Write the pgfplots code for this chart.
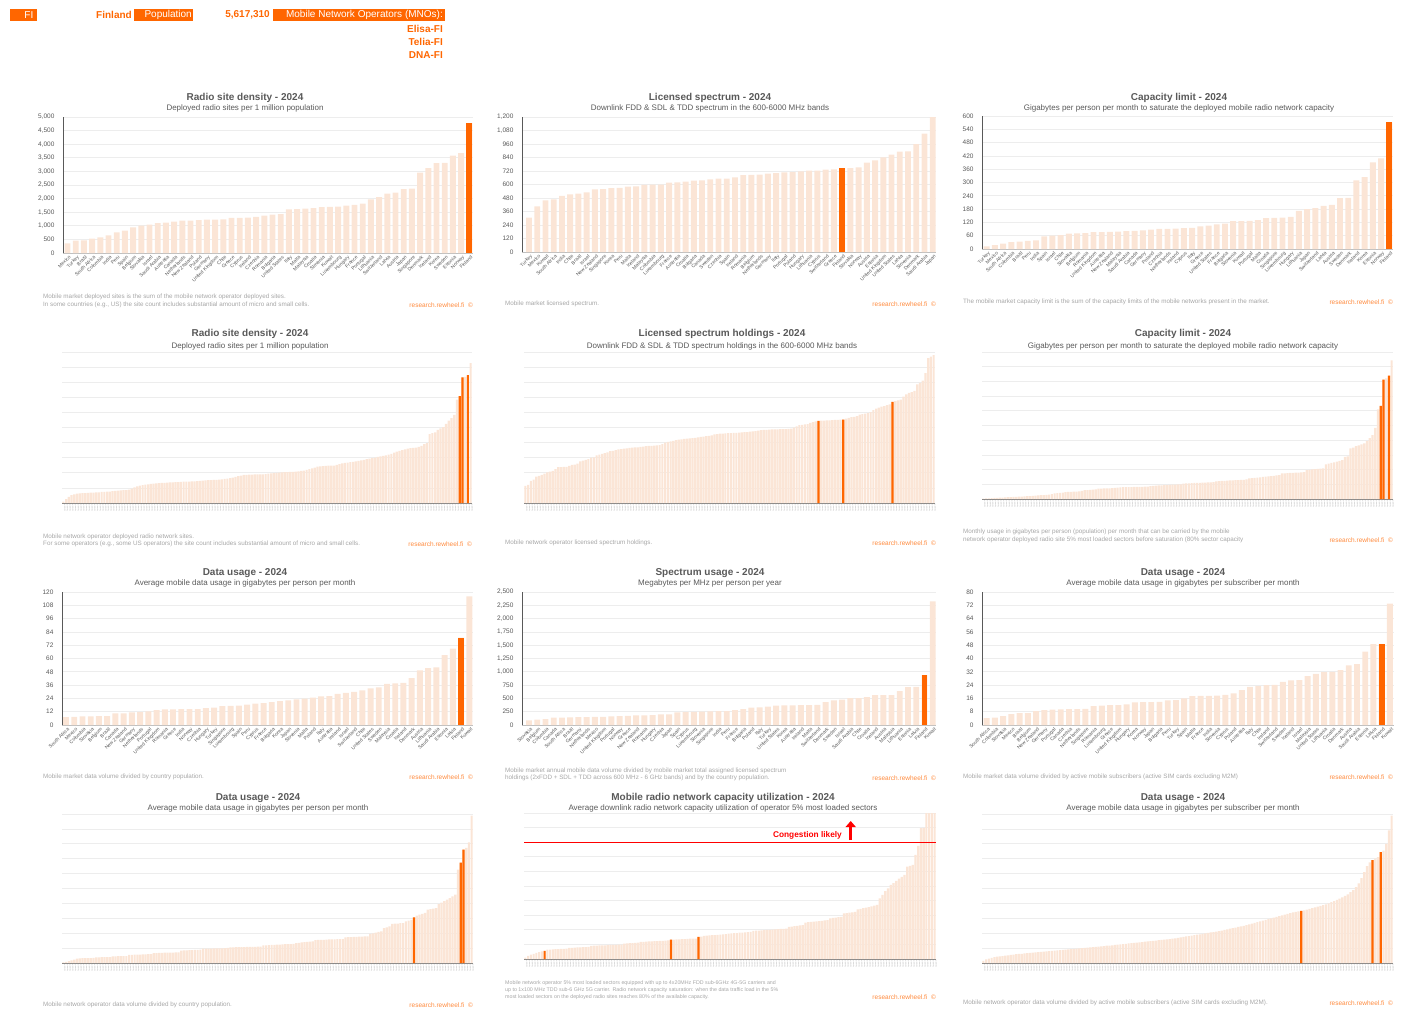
\documentclass[border=0pt]{standalone}
\usepackage{fontspec}
\setmainfont{Liberation Sans}
\usepackage{pgfplots}
\usepackage{pgfplotstable}
\pgfplotsset{compat=1.18}
\usetikzlibrary{arrows.meta}
\definecolor{barc}{HTML}{FBE5D6}
\definecolor{hic}{HTML}{FF6600}
\definecolor{txtc}{HTML}{595959}
\definecolor{notec}{HTML}{A6A6A6}
\definecolor{gridc}{HTML}{EDEDED}
\definecolor{rwc}{HTML}{FF8A3D}
\definecolor{basec}{HTML}{BFBFBF}

% ---------- country level data ----------
\pgfplotstableread[header=false,row sep=\\]{355\\453\\466\\527\\576\\650\\760\\821\\944\\1005\\1042\\1103\\1115\\1152\\1189\\1195\\1213\\1225\\1228\\1232\\1287\\1290\\1299\\1324\\1373\\1409\\1434\\1605\\1612\\1630\\1654\\1691\\1695\\1703\\1740\\1765\\1814\\1973\\2059\\2181\\2218\\2353\\2365\\2953\\3125\\3309\\3315\\3578\\3676\\4779\\}\tA
\pgfplotstableread[header=false,row sep=\\]{305\\406\\459\\468\\500\\513\\518\\530\\557\\558\\567\\569\\581\\584\\597\\598\\599\\616\\619\\625\\634\\637\\646\\652\\653\\664\\684\\685\\687\\696\\702\\708\\711\\717\\723\\724\\732\\735\\745\\746\\753\\794\\815\\841\\865\\892\\895\\960\\1052\\1200\\}\tB
\pgfplotstableread[header=false,row sep=\\]{12\\18\\24\\31\\33\\37\\39\\57\\60\\63\\69\\70\\72\\76\\76\\77\\78\\81\\82\\84\\87\\91\\91\\92\\94\\95\\102\\106\\111\\114\\126\\126\\127\\130\\139\\140\\141\\145\\172\\180\\184\\195\\199\\229\\231\\310\\324\\391\\409\\571\\}\tC
\pgfplotstableread[header=false,row sep=\\]{7.2\\7.3\\7.8\\7.9\\8.0\\8.1\\10.5\\10.6\\11.4\\11.7\\12.3\\13.5\\14.1\\14.2\\14.3\\14.3\\14.4\\15.3\\15.6\\17.1\\17.2\\17.4\\18.3\\19.2\\19.8\\20.7\\21.6\\22.2\\23.1\\23.7\\24.6\\25.8\\26.1\\28.2\\29.1\\30.0\\31.2\\33.0\\33.9\\37.2\\37.5\\38.1\\42.3\\49.2\\51.3\\51.9\\63.0\\69.0\\78.9\\116.1\\}\tG
\pgfplotstableread[header=false,row sep=\\]{88\\100\\113\\138\\140\\144\\149\\150\\151\\152\\163\\168\\170\\180\\182\\188\\199\\201\\238\\244\\249\\251\\256\\262\\263\\281\\300\\325\\331\\344\\363\\368\\370\\374\\376\\377\\431\\463\\475\\505\\507\\525\\562\\563\\564\\638\\713\\719\\938\\2325\\}\tH
\pgfplotstableread[header=false,row sep=\\]{4.2\\4.4\\5.4\\6.6\\7.1\\7.2\\8.4\\9.0\\9.3\\9.4\\9.6\\9.6\\9.7\\11.4\\11.6\\11.9\\12.0\\12.4\\13.6\\13.8\\13.8\\13.9\\14.8\\14.9\\16.0\\17.4\\17.6\\17.6\\17.7\\18.2\\19.0\\21.0\\23.0\\23.4\\24.0\\24.1\\26.0\\26.9\\27.0\\29.4\\30.8\\31.8\\32.0\\33.0\\35.8\\36.6\\44.2\\48.6\\48.8\\73.0\\}\tI

% ---------- operator level data (share of axis height, 0-100) ----------
\pgfplotstableread[header=false,row sep=\\]{
0.9\\2.5\\4.0\\5.3\\5.8\\6.2\\6.4\\6.5\\6.6\\6.7\\
6.8\\6.9\\7.0\\7.1\\7.3\\7.4\\7.5\\7.6\\7.8\\8.0\\
8.2\\8.3\\8.5\\8.6\\8.8\\9.5\\10.3\\11.0\\11.5\\11.8\\
12.1\\12.4\\12.7\\12.9\\13.0\\13.2\\13.3\\13.4\\13.5\\13.6\\
13.7\\13.8\\13.9\\14.0\\14.1\\14.2\\14.2\\14.3\\14.4\\14.5\\
14.7\\14.8\\15.0\\15.1\\15.2\\15.3\\15.4\\15.5\\15.7\\15.9\\
16.2\\16.4\\16.8\\17.3\\17.8\\18.2\\18.6\\18.7\\18.8\\18.8\\
18.9\\18.9\\19.0\\19.0\\19.2\\19.4\\19.6\\19.8\\20.0\\20.1\\
20.3\\20.4\\20.5\\20.6\\20.7\\20.8\\21.0\\21.3\\21.5\\22.0\\
22.5\\23.0\\23.5\\24.1\\24.3\\24.5\\24.6\\24.7\\24.8\\24.8\\
25.2\\25.8\\26.3\\26.6\\26.8\\27.0\\27.3\\27.6\\27.9\\28.2\\
28.5\\29.0\\29.4\\29.8\\30.1\\30.5\\30.9\\31.2\\31.6\\32.0\\
32.5\\33.3\\34.1\\34.5\\35.0\\35.5\\36.0\\36.3\\36.5\\36.7\\
37.2\\37.8\\39.0\\39.6\\45.6\\46.2\\46.7\\48.5\\49.5\\50.2\\
52.4\\54.6\\56.2\\58.4\\68.4\\70.8\\83.2\\83.5\\84.7\\92.7\\}\tD
\pgfplotstableread[header=false,row sep=\\]{
11.3\\12.0\\14.6\\15.5\\17.5\\18.0\\18.6\\19.5\\20.3\\20.8\\
21.2\\22.5\\23.7\\23.8\\23.9\\24.0\\24.6\\25.2\\25.5\\26.0\\
27.5\\28.0\\28.5\\29.0\\30.0\\30.3\\31.5\\32.0\\32.5\\33.0\\
33.5\\34.3\\34.6\\35.0\\35.5\\35.7\\36.0\\36.2\\36.5\\36.7\\
36.8\\36.9\\37.2\\37.4\\37.6\\37.8\\37.9\\38.0\\38.1\\38.3\\
39.0\\40.0\\40.5\\40.8\\41.2\\41.6\\42.0\\42.2\\42.4\\42.6\\
42.8\\43.0\\43.2\\43.4\\43.8\\44.0\\44.3\\44.5\\44.8\\45.4\\
45.7\\45.9\\46.0\\46.1\\46.2\\46.3\\46.4\\46.5\\46.6\\46.8\\
46.9\\47.0\\47.2\\47.4\\47.6\\48.0\\48.2\\48.4\\48.5\\48.6\\
48.7\\48.8\\48.8\\48.9\\49.0\\49.0\\49.1\\49.2\\50.0\\50.8\\
51.5\\51.8\\52.0\\52.3\\53.0\\53.5\\54.0\\54.4\\54.5\\54.6\\
54.7\\54.8\\54.9\\55.0\\55.1\\55.2\\55.3\\55.8\\56.3\\56.8\\
57.0\\57.5\\58.5\\58.9\\59.2\\59.6\\60.2\\61.5\\62.5\\63.2\\
63.8\\64.2\\64.8\\65.3\\67.0\\67.5\\68.0\\68.5\\70.5\\72.0\\
73.0\\73.5\\74.3\\78.5\\79.5\\81.0\\86.0\\96.0\\97.0\\98.0\\}\tE
\pgfplotstableread[header=false,row sep=\\]{
0.3\\0.4\\0.5\\0.6\\0.7\\0.8\\0.9\\1.0\\1.1\\1.2\\
1.3\\1.4\\1.5\\1.6\\1.7\\1.8\\1.9\\2.0\\2.2\\2.3\\
2.4\\2.6\\2.7\\2.8\\3.0\\3.4\\3.8\\4.0\\4.2\\4.4\\
4.6\\4.8\\4.9\\5.0\\5.1\\5.2\\5.6\\6.0\\6.1\\6.2\\
6.3\\6.6\\7.0\\7.1\\7.2\\7.2\\7.3\\7.4\\7.5\\7.8\\
7.9\\8.0\\8.0\\8.1\\8.1\\8.2\\8.2\\8.3\\8.3\\8.4\\
8.4\\8.8\\9.0\\9.1\\9.2\\9.3\\9.4\\9.5\\9.6\\9.7\\
9.8\\9.9\\10.0\\10.5\\10.6\\10.7\\10.8\\10.9\\11.0\\11.0\\
11.1\\11.2\\11.3\\11.4\\11.5\\12.0\\12.2\\12.3\\12.4\\12.5\\
12.6\\12.7\\12.8\\12.9\\13.0\\13.1\\13.3\\14.0\\14.2\\14.4\\
14.6\\14.8\\15.0\\15.2\\15.4\\15.6\\15.8\\16.0\\16.3\\17.4\\
17.5\\17.6\\17.7\\17.8\\17.9\\18.0\\18.2\\18.3\\19.7\\19.9\\
20.1\\20.3\\20.5\\20.6\\20.8\\23.5\\24.0\\24.5\\25.0\\25.5\\
26.0\\26.5\\28.7\\29.0\\34.4\\35.0\\36.0\\36.5\\37.2\\37.8\\
39.6\\41.5\\43.4\\48.4\\60.9\\63.3\\81.2\\82.0\\84.0\\94.3\\}\tF
\pgfplotstableread[header=false,row sep=\\]{
0.4\\0.8\\1.2\\1.7\\2.2\\3.0\\3.1\\3.2\\3.2\\3.3\\
3.3\\3.4\\3.8\\3.8\\3.9\\3.9\\4.0\\4.0\\4.5\\4.5\\
4.6\\4.6\\4.7\\4.7\\5.4\\5.5\\5.6\\5.6\\5.7\\5.8\\
5.8\\5.9\\6.0\\6.7\\6.7\\6.8\\6.8\\6.9\\6.9\\7.0\\
7.0\\7.1\\7.2\\8.3\\8.4\\8.5\\8.6\\8.7\\8.8\\8.9\\
9.0\\9.6\\9.6\\9.7\\9.7\\9.8\\9.8\\9.9\\9.9\\10.0\\
10.1\\10.5\\10.5\\10.6\\10.6\\10.7\\10.7\\10.8\\10.8\\10.9\\
10.9\\11.0\\11.0\\11.9\\11.9\\12.0\\12.1\\12.2\\12.3\\12.4\\
12.5\\12.6\\12.6\\12.7\\12.8\\13.4\\13.6\\13.8\\14.0\\14.2\\
14.4\\14.5\\15.4\\15.5\\15.5\\15.6\\15.7\\15.8\\15.8\\15.9\\
16.0\\16.0\\16.1\\17.2\\17.3\\17.4\\17.5\\17.6\\17.7\\17.7\\
17.8\\17.9\\19.5\\19.9\\20.4\\20.9\\21.3\\23.5\\24.0\\24.6\\
26.2\\26.4\\26.5\\26.7\\26.8\\28.0\\28.5\\29.0\\30.6\\31.8\\
32.4\\33.0\\33.6\\35.8\\36.2\\36.5\\36.9\\39.6\\40.5\\41.5\\
42.5\\43.6\\44.8\\45.9\\62.6\\67.3\\76.1\\77.2\\81.0\\98.9\\}\tJ
\pgfplotstableread[header=false,row sep=\\]{
1.0\\2.2\\3.0\\3.6\\4.2\\4.8\\5.2\\5.5\\6.4\\6.5\\
6.6\\6.7\\6.8\\6.9\\7.0\\7.1\\7.6\\7.7\\7.8\\7.9\\
8.0\\8.1\\8.2\\8.3\\9.0\\9.1\\9.2\\9.3\\9.4\\9.4\\
9.5\\9.6\\9.6\\9.7\\9.8\\9.9\\10.6\\10.7\\10.8\\10.9\\
11.0\\11.2\\11.7\\11.8\\11.9\\12.0\\12.1\\12.2\\12.3\\12.4\\
12.5\\12.6\\12.8\\13.3\\13.3\\13.4\\13.5\\13.6\\13.7\\13.8\\
13.9\\13.9\\14.0\\15.1\\15.4\\15.8\\16.0\\16.2\\16.3\\16.4\\
16.6\\16.7\\16.8\\17.0\\17.4\\17.5\\17.7\\17.8\\18.0\\18.1\\
18.3\\18.4\\18.6\\19.3\\19.4\\19.5\\19.7\\19.8\\19.9\\20.0\\
20.2\\20.3\\20.4\\20.6\\20.7\\20.9\\22.0\\22.2\\22.5\\22.7\\
23.0\\23.2\\25.0\\25.2\\25.4\\25.6\\25.8\\26.0\\26.2\\26.4\\
26.6\\27.8\\28.1\\28.4\\28.7\\28.9\\31.2\\31.5\\31.7\\32.0\\
32.3\\34.0\\34.4\\34.8\\35.2\\35.6\\36.0\\36.5\\37.0\\41.5\\
44.0\\46.5\\48.4\\50.7\\52.0\\53.5\\55.0\\56.3\\57.6\\63.3\\
63.8\\64.4\\71.3\\77.5\\89.7\\89.9\\100\\100\\100\\100\\}\tK
\pgfplotstableread[header=false,row sep=\\]{
1.5\\2.4\\3.0\\3.4\\3.9\\4.3\\4.5\\4.7\\5.0\\5.2\\
5.5\\5.7\\5.9\\6.1\\6.2\\6.4\\6.6\\6.8\\6.9\\7.1\\
7.3\\7.5\\7.6\\7.8\\8.0\\8.1\\8.3\\8.5\\8.6\\8.8\\
9.0\\9.2\\9.3\\9.5\\9.7\\9.8\\10.0\\10.2\\10.3\\10.5\\
10.7\\10.9\\11.0\\11.2\\11.4\\11.6\\11.7\\11.9\\12.1\\12.3\\
12.5\\12.7\\12.9\\13.1\\13.3\\13.5\\13.7\\13.9\\14.1\\14.3\\
14.5\\14.7\\14.9\\15.1\\15.3\\15.5\\15.7\\15.9\\16.1\\16.3\\
16.6\\16.9\\17.2\\17.5\\17.8\\18.1\\18.4\\18.7\\19.0\\19.3\\
19.6\\19.9\\20.2\\20.5\\20.8\\21.1\\21.4\\21.8\\22.2\\22.6\\
23.0\\23.4\\23.8\\24.2\\24.6\\25.0\\25.5\\26.0\\26.5\\27.0\\
27.5\\28.0\\28.5\\29.0\\29.5\\30.0\\30.5\\31.0\\31.5\\32.0\\
32.5\\33.0\\33.5\\34.0\\34.4\\34.7\\35.0\\35.3\\35.8\\36.3\\
36.8\\37.3\\37.8\\38.3\\38.8\\39.3\\40.0\\40.8\\41.6\\42.4\\
43.2\\44.0\\45.0\\46.0\\47.5\\49.0\\51.0\\53.5\\57.0\\61.0\\
65.0\\67.5\\69.0\\70.0\\71.0\\74.5\\75.5\\80.0\\89.0\\99.0\\}\tL

\pgfplotsset{
  base/.style={scale only axis, anchor=south west, ymin=0, enlargelimits=false,
    axis x line*=bottom, axis y line*=left,
    ymajorgrids, grid style={draw=gridc, line width=0.7pt},
    major tick length=0pt,
    tick label style={text=txtc},
    yticklabel style={font=\fontsize{6.5}{7}\selectfont, xshift=-5pt},
    /pgf/number format/assume math mode=true,
    /pgf/number format/1000 sep={,},
    clip=true},
  country/.style={base, xtick={0,...,49},
    xticklabel style={rotate=45, anchor=north east, font=\fontsize{4.9}{4.9}\selectfont, inner sep=0.5pt, yshift=-1.5pt},
    x axis line style={draw=basec, line width=0.6pt},
    y axis line style={draw=txtc, line width=0.8pt}},
  oper/.style={base, xmin=-0.5, xmax=149.5, ymax=100, ytick={0,10,...,100}, yticklabels={},
    xtick={0,...,149}, xticklabel={Operator-FI},
    xticklabel style={rotate=90, anchor=east, font=\fontsize{1.6}{1.8}\selectfont, inner sep=0.2pt, xshift=-0.3pt, yshift=-1.5pt, text=notec},
    x axis line style={draw=gray, line width=0.8pt},
    y axis line style={draw=none}},
  lb/.style={ybar, bar shift=0pt, fill=barc, draw=none},
  hb/.style={ybar, bar shift=0pt, fill=hic, draw=none},
}
\tikzset{
  ttl/.style={font=\bfseries\fontsize{10}{11}\selectfont, text=txtc, inner sep=0pt},
  sub/.style={font=\fontsize{8}{9}\selectfont, text=txtc, inner sep=0pt},
  note/.style={font=\fontsize{6.3}{7}\selectfont, text=notec, inner sep=0pt, anchor=west},
  rw/.style={font=\fontsize{6.5}{7}\selectfont, text=rwc, inner sep=0pt, anchor=east},
  hdr/.style={font=\fontsize{10}{11}\selectfont, inner sep=0pt, anchor=east},
}

\begin{document}
\begin{tikzpicture}
\useasboundingbox (0,0) rectangle (1412pt,-1012pt);

% ---------------- header ----------------
\fill[hic] (10pt,-9pt) rectangle (37pt,-21pt);
\node[hdr, text=white] at (33.5pt,-15pt) {FI};
\node[hdr, text=hic, font=\bfseries\fontsize{10}{11}\selectfont] at (132pt,-15pt) {Finland};
\fill[hic] (134pt,-9pt) rectangle (193pt,-21pt);
\node[hdr, text=white] at (192pt,-15pt) {Population};
\node[hdr, text=hic, font=\bfseries\fontsize{10}{11}\selectfont] at (270pt,-15pt) {5,617,310};
\fill[hic] (273pt,-9pt) rectangle (445pt,-21pt);
\node[hdr, text=white] at (443pt,-15pt) {Mobile Network Operators (MNOs):};
\node[hdr, text=hic, font=\bfseries\fontsize{10}{11}\selectfont] at (443pt,-28.5pt) {Elisa-FI};
\node[hdr, text=hic, font=\bfseries\fontsize{10}{11}\selectfont] at (443pt,-42pt) {Telia-FI};
\node[hdr, text=hic, font=\bfseries\fontsize{10}{11}\selectfont] at (443pt,-55.5pt) {DNA-FI};

% ================= ROW 1 =================
\node[ttl] at (245pt,-98pt) {Radio site density - 2024};
\node[sub] at (245pt,-108.5pt) {Deployed radio sites per 1 million population};
\begin{axis}[country, at={(63pt,-253pt)}, width=410pt, height=136pt,
  xmin=-0.55, xmax=49.45, ymax=5000, ytick={0,500,...,5000},
  xticklabels={Mexico,Turkey,Brazil,South Africa,Colombia,India,Peru,Spain,Belgium,Slovakia,Israel,Saudi Arabia,Australia,Canada,Netherlands,New Zealand,Poland,Germany,United Kingdom,Chile,Greece,Cyprus,Ireland,Czechia,Romania,Bulgaria,United States,Italy,Malta,Malaysia,Croatia,Slovenia,Kuwait,Luxembourg,Hungary,France,Portugal,Lithuania,Switzerland,Latvia,Austria,Japan,Singapore,Denmark,Iceland,Korea,Sweden,Estonia,Norway,Finland}]
\addplot[lb, bar width=0.72] table[x expr=\coordindex, y index=0] {\tA};
\addplot[hb, bar width=0.72] coordinates {(49,4779)};
\end{axis}
\node[note] at (43pt,-296.7pt) {Mobile market deployed sites is the sum of the mobile network operator deployed sites.};
\node[note] at (43pt,-305pt) {In some countries (e.g., US) the site count includes substantial amount of micro and small cells.};
\node[rw] at (473pt,-305pt) {research.rewheel.fi\ \ ©};

\node[ttl] at (710pt,-98pt) {Licensed spectrum - 2024};
\node[sub] at (710pt,-108.5pt) {Downlink FDD \& SDL \& TDD spectrum in the 600-6000 MHz bands};
\begin{axis}[country, at={(522pt,-252pt)}, width=414pt, height=135pt,
  xmin=-0.85, xmax=49.4, ymax=1200, ytick={0,120,...,1200},
  xticklabels={Turkey,Mexico,Kuwait,South Africa,India,Chile,Brazil,Israel,New Zealand,Singapore,Korea,Peru,Malta,Iceland,Malaysia,Colombia,Luxembourg,France,Australia,Croatia,Bulgaria,Canada,Sweden,Czechia,Spain,Ireland,Romania,Belgium,Netherlands,Germany,Italy,Portugal,Poland,Hungary,Lithuania,Cyprus,Switzerland,Greece,Finland,Slovakia,Norway,Austria,Estonia,United Kingdom,United States,Latvia,Slovenia,Denmark,Saudi Arabia,Japan}]
\addplot[lb, bar width=0.72] table[x expr=\coordindex, y index=0] {\tB};
\addplot[hb, bar width=0.72] coordinates {(38,745)};
\end{axis}
\node[note] at (505pt,-304.3pt) {Mobile market licensed spectrum.};
\node[rw] at (936pt,-304.3pt) {research.rewheel.fi\ \ ©};

\node[ttl] at (1179pt,-98pt) {Capacity limit - 2024};
\node[sub] at (1179pt,-108.5pt) {Gigabytes per person per month to saturate the deployed mobile radio network capacity};
\begin{axis}[country, at={(982pt,-249pt)}, width=411pt, height=133pt,
  xmin=-0.57, xmax=49.45, ymax=600, ytick={0,60,...,600},
  xticklabels={Turkey,Mexico,South Africa,Colombia,Brazil,Peru,India,Spain,Israel,Chile,Slovakia,Belgium,Romania,United Kingdom,Australia,New Zealand,Malaysia,Saudi Arabia,Canada,Germany,Poland,Czechia,Netherlands,Ireland,Cyprus,Italy,Greece,United States,France,Bulgaria,Slovenia,Kuwait,Portugal,Malta,Croatia,Singapore,Luxembourg,Hungary,Lithuania,Japan,Switzerland,Latvia,Austria,Sweden,Denmark,Iceland,Korea,Estonia,Norway,Finland}]
\addplot[lb, bar width=0.72] table[x expr=\coordindex, y index=0] {\tC};
\addplot[hb, bar width=0.72] coordinates {(49,571)};
\end{axis}
\node[note] at (963pt,-302pt) {The mobile market capacity limit is the sum of the capacity limits of the mobile networks present in the market.};
\node[rw] at (1393pt,-302pt) {research.rewheel.fi\ \ ©};

% ================= ROW 2 =================
\node[ttl] at (250pt,-334.3pt) {Radio site density - 2024};
\node[sub] at (250pt,-346pt) {Deployed radio sites per 1 million population};
\begin{axis}[oper, at={(62pt,-503pt)}, width=410pt, height=151pt]
\addplot[lb, bar width=0.8] table[x expr=\coordindex, y index=0] {\tD};
\addplot[hb, bar width=0.8] coordinates {(145,70.8) (146,83.2) (148,84.7)};
\end{axis}
\node[note] at (43pt,-537.3pt) {Mobile network operator deployed radio network sites.};
\node[note] at (43pt,-544pt) {For some operators (e.g., some US operators) the site count includes substantial amount of micro and small cells.};
\node[rw] at (472pt,-544pt) {research.rewheel.fi\ \ ©};

\node[ttl] at (722pt,-334.3pt) {Licensed spectrum holdings - 2024};
\node[sub] at (722pt,-346pt) {Downlink FDD \& SDL \& TDD spectrum holdings in the 600-6000 MHz bands};
\begin{axis}[oper, at={(524pt,-503pt)}, width=411pt, height=151pt]
\addplot[lb, bar width=0.8] table[x expr=\coordindex, y index=0] {\tE};
\addplot[hb, bar width=0.8] coordinates {(107,54.4) (116,55.3) (134,67.0)};
\end{axis}
\node[note] at (505pt,-543pt) {Mobile network operator licensed spectrum holdings.};
\node[rw] at (936pt,-543pt) {research.rewheel.fi\ \ ©};

\node[ttl] at (1183pt,-334.3pt) {Capacity limit - 2024};
\node[sub] at (1183pt,-346pt) {Gigabytes per person per month to saturate the deployed mobile radio network capacity};
\begin{axis}[oper, at={(982pt,-499pt)}, width=411pt, height=147pt]
\addplot[lb, bar width=0.8] table[x expr=\coordindex, y index=0] {\tF};
\addplot[hb, bar width=0.8] coordinates {(145,63.3) (146,81.2) (148,84.0)};
\end{axis}
\node[note] at (963pt,-531.7pt) {Monthly usage in gigabytes per person (population) per month that can be carried by the mobile};
\node[note] at (963pt,-540pt) {network operator deployed radio site 5\% most loaded sectors before saturation (80\% sector capacity};
\node[rw] at (1393pt,-540pt) {research.rewheel.fi\ \ ©};

% ================= ROW 3 =================
\node[ttl] at (245pt,-572.7pt) {Data usage - 2024};
\node[sub] at (245pt,-583.3pt) {Average mobile data usage in gigabytes per person per month};
\begin{axis}[country, at={(62pt,-725pt)}, width=411pt, height=133pt,
  xmin=-0.49, xmax=49.45, ymax=120, ytick={0,12,...,120},
  xticklabels={South Africa,Mexico,Colombia,Slovakia,Belgium,Brazil,Canada,New Zealand,Germany,Netherlands,Portugal,United Kingdom,Romania,Greece,India,Norway,Czechia,Hungary,Turkey,Singapore,Luxembourg,Spain,Peru,Cyprus,France,Bulgaria,Korea,Japan,Slovenia,Malta,Poland,Italy,Australia,Ireland,Israel,Switzerland,Chile,United States,Sweden,Malaysia,Croatia,Iceland,Denmark,Austria,Lithuania,Saudi Arabia,Estonia,Latvia,Finland,Kuwait}]
\addplot[lb, bar width=0.72] table[x expr=\coordindex, y index=0] {\tG};
\addplot[hb, bar width=0.72] coordinates {(48,78.9)};
\end{axis}
\node[note] at (43pt,-777.3pt) {Mobile market data volume divided by country population.};
\node[rw] at (473pt,-777.3pt) {research.rewheel.fi\ \ ©};

\node[ttl] at (710pt,-572.7pt) {Spectrum usage - 2024};
\node[sub] at (710pt,-583.3pt) {Megabytes per MHz per person per year};
\begin{axis}[country, at={(522pt,-725pt)}, width=414pt, height=133pt,
  xmin=-0.85, xmax=49.4, ymax=2500, ytick={0,250,...,2500},
  xticklabels={Slovakia,Belgium,Colombia,Canada,South Africa,Brazil,Germany,Netherlands,Mexico,United Kingdom,Portugal,Norway,Greece,New Zealand,Romania,Hungary,Czechia,Japan,Spain,Cyprus,Luxembourg,Slovenia,Singapore,India,Peru,France,Bulgaria,Poland,Italy,Turkey,United States,Korea,Australia,Ireland,Malta,Switzerland,Denmark,Sweden,Israel,Saudi Arabia,Chile,Croatia,Iceland,Austria,Malaysia,Lithuania,Estonia,Latvia,Finland,Kuwait}]
\addplot[lb, bar width=0.72] table[x expr=\coordindex, y index=0] {\tH};
\addplot[hb, bar width=0.72] coordinates {(48,938)};
\end{axis}
\node[note] at (505pt,-770.7pt) {Mobile market annual mobile data volume divided by mobile market total assigned licensed spectrum};
\node[note] at (505pt,-778.3pt) {holdings (2xFDD + SDL + TDD across 600 MHz - 6 GHz bands) and by the country population.};
\node[rw] at (936pt,-778.3pt) {research.rewheel.fi\ \ ©};

\node[ttl] at (1183pt,-572.7pt) {Data usage - 2024};
\node[sub] at (1183pt,-583.3pt) {Average mobile data usage in gigabytes per subscriber per month};
\begin{axis}[country, at={(982pt,-725pt)}, width=412pt, height=133pt,
  xmin=-0.57, xmax=49.5, ymax=80, ytick={0,8,...,80},
  xticklabels={South Africa,Colombia,Slovakia,Mexico,Brazil,Belgium,New Zealand,Germany,Portugal,Canada,Czechia,Netherlands,Singapore,Romania,Luxembourg,Greece,United Kingdom,Hungary,Korea,Norway,Japan,Bulgaria,Peru,Turkey,Spain,Malta,France,India,Slovenia,Cyprus,Poland,Australia,Italy,Chile,Ireland,Switzerland,Sweden,Iceland,Israel,Malaysia,United States,Lithuania,Croatia,Denmark,Austria,Saudi Arabia,Estonia,Latvia,Finland,Kuwait}]
\addplot[lb, bar width=0.72] table[x expr=\coordindex, y index=0] {\tI};
\addplot[hb, bar width=0.72] coordinates {(48,48.8)};
\end{axis}
\node[note] at (963pt,-777.3pt) {Mobile market data volume divided by active mobile subscribers (active SIM cards excluding M2M)};
\node[rw] at (1393pt,-777.3pt) {research.rewheel.fi\ \ ©};

% ================= ROW 4 =================
\node[ttl] at (258pt,-797.7pt) {Data usage - 2024};
\node[sub] at (258pt,-808.3pt) {Average mobile data usage in gigabytes per person per month};
\begin{axis}[oper, at={(62pt,-963pt)}, width=411pt, height=149pt]
\addplot[lb, bar width=0.8] table[x expr=\coordindex, y index=0] {\tJ};
\addplot[hb, bar width=0.8] coordinates {(128,30.6) (145,67.3) (146,76.1)};
\end{axis}
\node[note] at (43pt,-1005pt) {Mobile network operator data volume divided by country population.};
\node[rw] at (473pt,-1005pt) {research.rewheel.fi\ \ ©};

\node[ttl] at (723pt,-797.7pt) {Mobile radio network capacity utilization - 2024};
\node[sub] at (723pt,-808.3pt) {Average downlink radio network capacity utilization of operator 5\% most loaded sectors};
\begin{axis}[oper, at={(524pt,-959pt)}, width=412pt, height=146pt]
\addplot[lb, bar width=0.8] table[x expr=\coordindex, y index=0] {\tK};
\addplot[hb, bar width=0.8] coordinates {(7,5.5) (53,13.3) (63,15.1)};
\addplot[red, line width=1pt] coordinates {(-0.5,80) (149.5,80)};
\end{axis}
\node[anchor=east, inner sep=0pt, text=red, font=\bfseries\fontsize{8.3}{9}\selectfont] at (842pt,-835pt) {Congestion likely};
\draw[red, line width=3.5pt, -{Triangle[width=10pt,length=6pt]}] (850.7pt,-840pt) -- (850.7pt,-821pt);
\node[note, font=\fontsize{5.3}{6}\selectfont] at (505pt,-983.3pt) {Mobile network operator 5\% most loaded sectors equipped with up to 4x20MHz FDD sub-6GHz 4G-5G carriers and};
\node[note, font=\fontsize{5.3}{6}\selectfont] at (505pt,-990pt) {up to 1x100 MHz TDD sub-6 GHz 5G carrier. Radio network capacity saturation: when the data traffic load in the 5\%};
\node[note, font=\fontsize{5.3}{6}\selectfont] at (505pt,-996.7pt) {most loaded sectors on the deployed radio sites reaches 80\% of the available capacity.};
\node[rw] at (936pt,-997pt) {research.rewheel.fi\ \ ©};

\node[ttl] at (1183pt,-797.7pt) {Data usage - 2024};
\node[sub] at (1183pt,-808.3pt) {Average mobile data usage in gigabytes per subscriber per month};
\begin{axis}[oper, at={(982pt,-963pt)}, width=411pt, height=149pt]
\addplot[lb, bar width=0.8] table[x expr=\coordindex, y index=0] {\tL};
\addplot[hb, bar width=0.8] coordinates {(116,35.0) (142,69.0) (145,74.5)};
\end{axis}
\node[note] at (963pt,-1003pt) {Mobile network operator data volume divided by active mobile subscribers (active SIM cards excluding M2M).};
\node[rw] at (1393pt,-1003pt) {research.rewheel.fi\ \ ©};
\end{tikzpicture}
\end{document}
